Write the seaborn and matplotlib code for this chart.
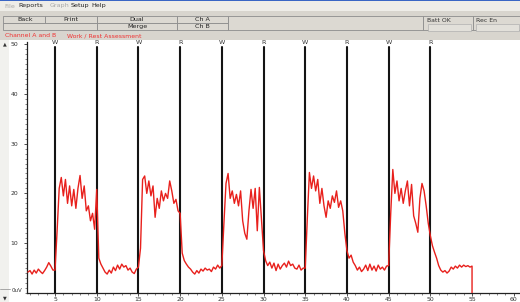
import numpy as np
import pandas as pd
import matplotlib
matplotlib.use("Agg")
import matplotlib.pyplot as plt
from matplotlib.patches import Rectangle
from matplotlib.ticker import MultipleLocator
import seaborn as sns

# ---------------- data (uV, sampled every 0.25 min) ----------------
sample_step = 0.25
start_time = 1.75
pre_rest = [4.2, 4.5, 3.8, 4.6, 4.0, 4.8, 4.3, 3.9, 4.5, 5.2, 6.1, 5.4, 4.6]
work_1 = [4.6, 12.5, 21.0, 23.2, 19.5, 22.8, 18.0, 21.5, 17.5, 20.8,
          17.0, 21.0, 23.6, 19.0, 21.5, 16.5, 17.5, 14.5, 16.0, 12.8]
rest_1 = [20.8, 7.0, 5.8, 5.0, 4.2, 3.8, 4.6, 4.0, 5.2, 4.5,
          5.6, 4.8, 5.8, 5.2, 5.5, 4.6, 5.0, 4.2, 3.9, 4.8]
work_2 = [5.2, 9.0, 22.8, 23.5, 20.0, 22.5, 19.5, 21.5, 15.2, 19.0,
          17.0, 20.5, 18.5, 20.0, 19.0, 22.5, 20.5, 18.0, 18.8, 16.5]
rest_2 = [16.0, 8.0, 6.5, 5.8, 5.2, 4.8, 4.2, 3.8, 4.5, 4.0,
          4.8, 4.4, 5.0, 4.6, 4.8, 4.3, 5.2, 4.8, 5.6, 5.0]
work_3 = [5.5, 14.0, 22.0, 24.0, 19.0, 20.5, 18.0, 19.8, 17.5, 20.5,
          14.5, 12.0, 10.8, 16.5, 20.8, 17.0, 21.0, 12.5, 21.2, 15.0]
rest_3 = [8.5, 6.5, 5.5, 6.2, 5.0, 6.0, 4.5, 5.8, 4.8, 5.5,
          6.0, 5.2, 6.4, 5.5, 5.8, 5.0, 4.8, 5.6, 4.6, 5.0]
work_4 = [5.0, 15.0, 24.2, 21.0, 23.5, 20.5, 22.8, 18.0, 21.0, 17.5,
          15.2, 18.5, 17.0, 19.5, 18.2, 20.5, 17.2, 18.5, 16.5, 12.0]
rest_4 = [8.5, 7.0, 7.6, 6.2, 5.5, 4.6, 5.2, 4.3, 4.8, 5.6,
          4.5, 5.8, 4.6, 5.4, 4.4, 5.6, 4.8, 5.2, 4.6, 5.4]
work_5 = [5.5, 16.0, 24.8, 20.0, 22.5, 18.5, 21.0, 18.0, 20.5, 22.5,
          17.5, 21.8, 15.5, 14.0, 12.2, 19.0, 22.0, 20.5, 17.5, 14.0]
tail_rest = [11.5, 9.5, 8.2, 7.0, 5.5, 4.6, 4.2, 4.5, 4.0, 4.4, 5.2,
             4.8, 5.4, 5.0, 5.6, 5.2, 5.6, 5.3, 5.5, 5.2, 5.4]
end_time = 55.0
end_value = 0.0

event_times = [5, 10, 15, 20, 25, 30, 35, 40, 45, 50]
event_labels = ["W", "R", "W", "R", "W", "R", "W", "R", "W", "R"]
x_ticks = [5, 10, 15, 20, 25, 30, 35, 40, 45, 50, 55, 60]
y_ticks = [10, 20, 30, 40, 50]

values = (pre_rest + work_1 + rest_1 + work_2 + rest_2 + work_3 + rest_3
          + work_4 + rest_4 + work_5 + tail_rest)
times = list(start_time + sample_step * np.arange(len(values)))
df = pd.DataFrame({"t": times + [end_time], "uv": values + [end_value]})

# ---------------- figure ----------------
sns.set_theme(style="white")
plt.rcParams["font.family"] = ["DejaVu Sans"]

W, H = 520, 302
fig = plt.figure(figsize=(W / 100, H / 100), dpi=100)
fig.patch.set_facecolor("#D8D5CE")


def rect(px0, py0, px1, py1, fc, ec="none", lw=0.0, z=0):
    fig.add_artist(Rectangle((px0 / W, 1 - py1 / H), (px1 - px0) / W, (py1 - py0) / H,
                             transform=fig.transFigure, facecolor=fc, edgecolor=ec,
                             linewidth=lw, zorder=z))


def ftext(px, py, s, **kw):
    fig.text(px / W, 1 - py / H, s, **kw)


# menu bar
rect(0, 0, W, 11, "#EEEDE8")
rect(0, 0, W, 1.2, "#3A66C4")
menu = [(4, "File", "#A8A8A8"), (18, "Reports", "#222222"), (50, "Graph", "#A8A8A8"),
        (71, "Setup", "#222222"), (91, "Help", "#222222")]
for px, s, c in menu:
    ftext(px, 6, s, fontsize=4.6, color=c, va="center", ha="left")

# buttons
btn_fc, btn_ec = "#DCD9D2", "#8C8C8C"
rect(3, 15.5, 45, 23, btn_fc, btn_ec, 0.6)
rect(45, 15.5, 97, 23, btn_fc, btn_ec, 0.6)
rect(3, 23, 97, 30, btn_fc, btn_ec, 0.6)
rect(97, 15.5, 177, 23, btn_fc, btn_ec, 0.6)
rect(97, 23, 177, 30, btn_fc, btn_ec, 0.6)
rect(177, 15.5, 228, 23, btn_fc, btn_ec, 0.6)
rect(177, 23, 228, 30, btn_fc, btn_ec, 0.6)
rect(228, 15.5, 423, 30, btn_fc, btn_ec, 0.6)
rect(423, 15.5, 473, 30, btn_fc, btn_ec, 0.6)
rect(473, 15.5, 521, 30, btn_fc, btn_ec, 0.6)
rect(428, 24, 471, 31, "#E2E0DA", "#B0B0B0", 0.5)
rect(476, 24, 519, 31, "#E2E0DA", "#B0B0B0", 0.5)
for px, py, s in [(25, 19.3, "Back"), (71, 19.3, "Print"), (137, 19.3, "Dual"),
                  (137, 26.5, "Merge"), (202, 19.3, "Ch A"), (202, 26.5, "Ch B")]:
    ftext(px, py, s, fontsize=4.6, color="#222222", ha="center", va="center")
ftext(427, 20, "Batt OK", fontsize=4.4, color="#333333", ha="left", va="center")
ftext(476, 20, "Rec En", fontsize=4.4, color="#333333", ha="left", va="center")

# red header line
ftext(5, 35.5, "Channel A and B", fontsize=4.4, color="#F03232", ha="left", va="center")
ftext(67, 35.5, "Work / Rest Assessment", fontsize=4.4, color="#F03232", ha="left", va="center")

# chart white panel
rect(0, 39.5, W, H, "#FFFFFF")
rect(0, 39.5, 9, H, "#F1F1EE")
ftext(5, 44, "\u25b2", fontsize=3.5, color="#333333", ha="center", va="center")
ftext(5, 298, "\u25bc", fontsize=3.5, color="#333333", ha="center", va="center")
fig.add_artist(plt.Line2D([0, 10 / W], [1 - 288.5 / H, 1 - 288.5 / H],
                          transform=fig.transFigure, color="#9A9A9A", lw=0.6))
ftext(12, 290.5, "0uV", fontsize=4.0, color="#333333", ha="left", va="center")

# axes
ax_left, ax_right, ax_top, ax_bot = 27, 520, 42, 293
ax = fig.add_axes([ax_left / W, 1 - ax_bot / H, (ax_right - ax_left) / W, (ax_bot - ax_top) / H])
ax.set_facecolor("none")
ax.set_xlim(1.64, 60.75)
ax.set_ylim(0, 50.4)

for t in event_times:
    ax.axvline(t, ymin=0, ymax=0.98, color="#141414", lw=1.5, zorder=2)
for t, lab in zip(event_times, event_labels):
    ax.text(t, 0.997, lab, transform=ax.get_xaxis_transform(), ha="center",
            va="center", fontsize=4.6, color="#333333", clip_on=False)

sns.lineplot(data=df, x="t", y="uv", ax=ax, sort=False, estimator=None,
             color="#E8201C", lw=1.0, zorder=3)

ax.set_xlabel("")
ax.set_ylabel("")
sns.despine(ax=ax, top=True, right=True)
for side in ("left", "bottom"):
    ax.spines[side].set_color("#222222")
    ax.spines[side].set_linewidth(0.9)

ax.set_xticks(x_ticks)
ax.set_xticklabels([str(v) for v in x_ticks])
ax.set_yticks(y_ticks)
ax.set_yticklabels([str(v) for v in y_ticks])
ax.xaxis.set_minor_locator(MultipleLocator(1))
ax.yaxis.set_minor_locator(MultipleLocator(1))
ax.tick_params(axis="both", which="major", direction="out", length=2.5, width=0.6,
               color="#333333", labelsize=4.4, labelcolor="#333333",
               bottom=True, left=True)
ax.tick_params(axis="x", which="major", pad=0.6)
ax.tick_params(axis="y", which="major", pad=4)
ax.tick_params(axis="both", which="minor", direction="out", length=1.4, width=0.5,
               color="#555555", bottom=True, left=True)
ax.grid(False)

fig.savefig("out.png", dpi=100, facecolor=fig.get_facecolor())
